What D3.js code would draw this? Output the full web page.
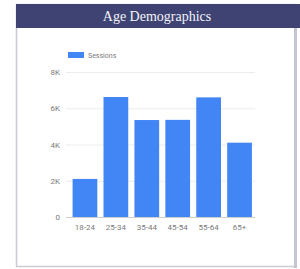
<!doctype html>
<html lang="en">
<head>
<meta charset="utf-8">
<title>Age Demographics</title>
<style>
  body { margin: 0; background: #fff; }
  text { font-family: Roboto, sans-serif; }
  .tick text { font-size: 8px; fill: #7a7a7a; }
  .tick line { stroke: #ececec; }
  path.domain { stroke: none; }
</style>
</head>
<body>
<div id="viz"></div>
<script src="https://cdn.jsdelivr.net/npm/d3@7"></script>
<script>
var ageGroups = ["18-24", "25-34", "35-44", "45-54", "55-64", "65+"];
var sessions = [2100, 6620, 5350, 5360, 6600, 4100];
var yTicks = [0, 2000, 4000, 6000, 8000];
var yTickLabels = ["0", "2K", "4K", "6K", "8K"];

var w = 300, h = 269;

var svg = d3.select("#viz")
  .append("svg")
  .attr("width", w)
  .attr("height", h);

// card
svg.append("rect")
  .attr("x", 16.5).attr("y", 4.5)
  .attr("width", 279).attr("height", 262)
  .style("fill", "#fff")
  .style("stroke", "#c9ccd8")
  .style("stroke-width", 1.5);

svg.append("rect")
  .attr("x", 294).attr("y", 4)
  .attr("width", 3).attr("height", 264)
  .style("fill", "#c3c5d2");

// header
svg.append("rect")
  .attr("x", 16).attr("y", 4)
  .attr("width", 284).attr("height", 24)
  .style("fill", "#3e4373");

svg.append("text")
  .attr("x", 157).attr("y", 21)
  .attr("text-anchor", "middle")
  .style("font-family", "'Liberation Serif', serif")
  .style("font-size", "14px")
  .style("fill", "#f4f4f8")
  .text("Age Demographics");

// scales
var xScale = d3.scaleBand()
  .domain(ageGroups)
  .range([69.5, 255])
  .paddingInner(0.2)
  .paddingOuter(0.1);

var yScale = d3.scaleLinear()
  .domain([0, 8000])
  .range([217, 72]);

// grid + y labels
var yAxis = d3.axisLeft(yScale)
  .tickValues(yTicks)
  .tickSize(-(255 - 66))
  .tickPadding(6)
  .tickFormat(function (d, i) { return yTickLabels[i]; });

svg.append("g")
  .attr("transform", "translate(66,0)")
  .call(yAxis);

// bars
svg.selectAll("rect.bar")
  .data(sessions)
  .enter()
  .append("rect")
  .attr("class", "bar")
  .attr("x", function (d, i) { return xScale(ageGroups[i]); })
  .attr("y", function (d) { return yScale(d); })
  .attr("width", xScale.bandwidth())
  .attr("height", function (d) { return yScale(0) - yScale(d); })
  .style("fill", "#4285f4");

// x labels
var xAxis = d3.axisBottom(xScale).tickSize(0).tickPadding(7);
svg.append("g")
  .attr("transform", "translate(0,217)")
  .call(xAxis);

// baseline
svg.append("line")
  .attr("x1", 66).attr("x2", 255)
  .attr("y1", 217.5).attr("y2", 217.5)
  .style("stroke", "#cfcfcf");

// legend
svg.append("rect")
  .attr("x", 68).attr("y", 52)
  .attr("width", 16).attr("height", 6)
  .style("fill", "#4285f4");

svg.append("text")
  .attr("x", 88).attr("y", 57.5)
  .style("font-size", "7px")
  .style("fill", "#7a7a7a")
  .text("Sessions");
</script>
</body>
</html>
